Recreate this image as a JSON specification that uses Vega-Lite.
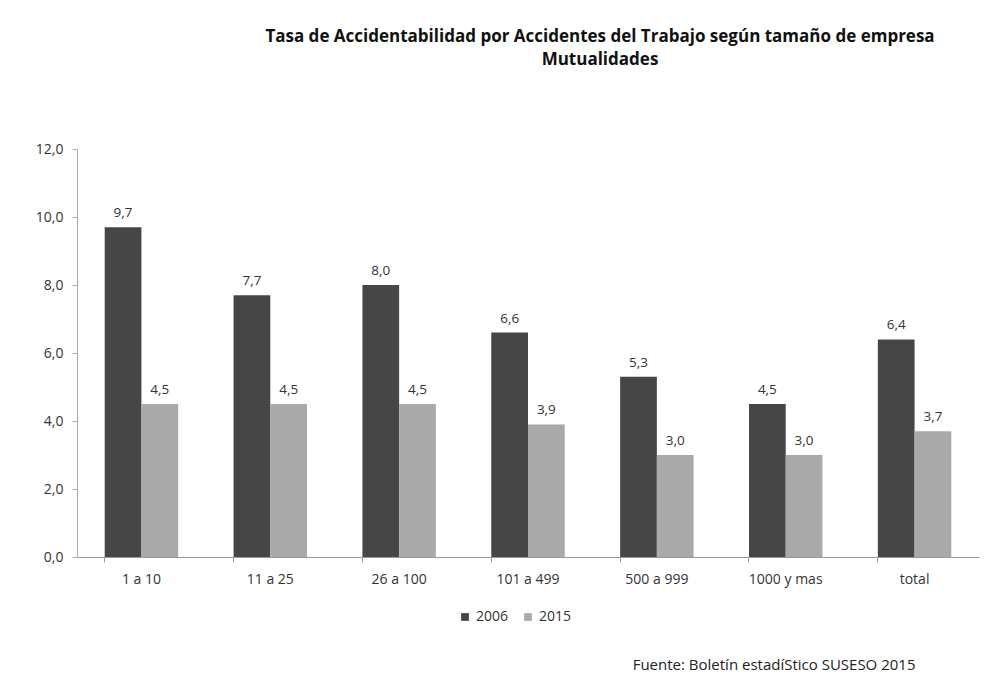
{
  "$schema": "https://vega.github.io/schema/vega-lite/v6.json",
  "width": 902,
  "height": 408,
  "autosize": {"type": "none"},
  "padding": {"left": 77, "top": 149, "right": 7, "bottom": 128},
  "background": "white",
  "title": {
    "text": ["Tasa de Accidentabilidad por Accidentes del Trabajo según tamaño de empresa", "Mutualidades"],
    "font": "Open Sans",
    "fontSize": 17,
    "fontWeight": "bold",
    "color": "#111",
    "anchor": "middle",
    "dx": 72,
    "offset": 73,
    "lineHeight": 23
  },
  "data": {
    "values": [
      {"cat": "1 a 10", "year": "2006", "value": 9.7},
      {"cat": "1 a 10", "year": "2015", "value": 4.5},
      {"cat": "11 a 25", "year": "2006", "value": 7.7},
      {"cat": "11 a 25", "year": "2015", "value": 4.5},
      {"cat": "26 a 100", "year": "2006", "value": 8.0},
      {"cat": "26 a 100", "year": "2015", "value": 4.5},
      {"cat": "101 a 499", "year": "2006", "value": 6.6},
      {"cat": "101 a 499", "year": "2015", "value": 3.9},
      {"cat": "500 a 999", "year": "2006", "value": 5.3},
      {"cat": "500 a 999", "year": "2015", "value": 3.0},
      {"cat": "1000 y mas", "year": "2006", "value": 4.5},
      {"cat": "1000 y mas", "year": "2015", "value": 3.0},
      {"cat": "total", "year": "2006", "value": 6.4},
      {"cat": "total", "year": "2015", "value": 3.7}
    ]
  },
  "encoding": {
    "x": {
      "field": "cat",
      "type": "nominal",
      "sort": ["1 a 10", "11 a 25", "26 a 100", "101 a 499", "500 a 999", "1000 y mas", "total"],
      "scale": {"paddingInner": 0.43, "paddingOuter": 0.215},
      "axis": {
        "title": "Fuente: Boletín estadíStico SUSESO 2015",
        "titleFont": "Open Sans",
        "titleFontSize": 15,
        "titleFontWeight": "normal",
        "titleColor": "#222",
        "titleAnchor": "end",
        "titleAlign": "right",
        "titleX": 838,
        "titleY": 100,
        "labelAngle": 0,
        "labelFont": "Open Sans",
        "labelFontSize": 14,
        "labelColor": "#333",
        "labelPadding": 10,
        "bandPosition": 0,
        "tickSize": 5,
        "tickColor": "#999",
        "domainColor": "#999"
      }
    },
    "xOffset": {"field": "year", "type": "nominal", "scale": {"paddingInner": 0}},
    "y": {
      "field": "value",
      "type": "quantitative",
      "scale": {"domain": [0, 12]},
      "axis": {
        "title": null,
        "values": [0, 2, 4, 6, 8, 10, 12],
        "format": ".1f",
        "grid": false,
        "labelFont": "Open Sans",
        "labelFontSize": 14,
        "labelColor": "#333",
        "labelPadding": 9,
        "tickSize": 5,
        "tickColor": "#aaa",
        "domainColor": "#aaa"
      }
    }
  },
  "layer": [
    {
      "mark": {"type": "bar"},
      "encoding": {
        "color": {
          "field": "year",
          "type": "nominal",
          "scale": {"domain": ["2006", "2015"], "range": ["#464646", "#a9a9a9"]},
          "legend": {
            "title": null,
            "orient": "none",
            "legendX": 381,
            "legendY": 461,
            "direction": "horizontal",
            "symbolType": "square",
            "symbolSize": 60,
            "labelFont": "Open Sans",
            "labelFontSize": 14,
            "labelColor": "#333",
            "columnPadding": 12
          }
        }
      }
    },
    {
      "mark": {"type": "text", "dy": -14, "font": "Open Sans", "fontSize": 13.5, "color": "#333"},
      "encoding": {
        "text": {"field": "value", "type": "quantitative", "format": ".1f"}
      }
    }
  ],
  "config": {
    "view": {"stroke": null},
    "locale": {
      "number": {"decimal": ",", "thousands": ".", "grouping": [3], "currency": ["", " €"]}
    }
  }
}
